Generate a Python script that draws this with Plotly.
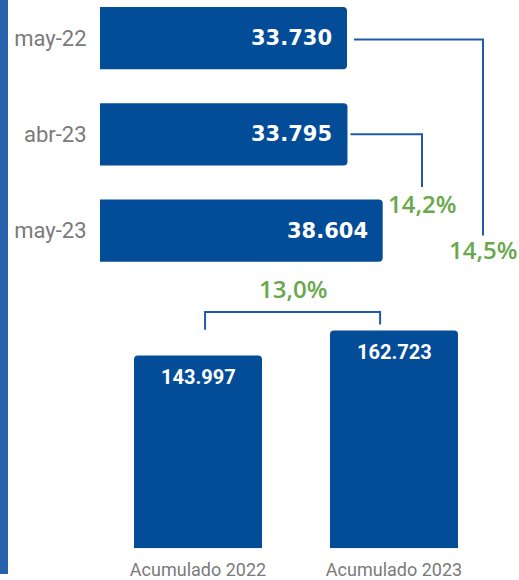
import plotly.graph_objects as go

# ---- data ----
months = ["may-22", "abr-23", "may-23"]
month_values = [33730, 33795, 38604]
acc_labels = ["Acumulado 2022", "Acumulado 2023"]
acc_values = [143997, 162723]
growth_labels = ["14,5%", "14,2%", "13,0%"]

BAR = "#034c97"
LINE = "#1f5ba6"
GREEN = "#6aa84c"
GREY = "#7a7a7a"

def fmt(v):
    return f"{v:,}".replace(",", ".")

W, H = 519, 580
k = 247 / 33730          # px per unit (horizontal bars)
ks = 0.001353            # px per unit (vertical bars)

GFONT = dict(family="Open Sans", size=24, color=GREEN, weight=600)

fig = go.Figure()

fig.add_trace(go.Bar(
    x=month_values, y=list(range(len(months))), orientation="h",
    marker=dict(color=BAR, line=dict(width=0)), width=0.648,
    xaxis="x", yaxis="y", hoverinfo="skip", showlegend=False,
))
fig.add_trace(go.Bar(
    x=list(range(len(acc_labels))), y=acc_values,
    marker=dict(color=BAR, line=dict(width=0)), width=0.653,
    xaxis="x2", yaxis="y2", hoverinfo="skip", showlegend=False,
))

ann = []
for i, v in enumerate(month_values):
    ann.append(dict(x=v, y=i, xref="x", yref="y", text=fmt(v), showarrow=False,
                    xanchor="right", yanchor="middle", xshift=-13,
                    font=dict(family="DejaVu Sans", size=21, color="white", weight="bold")))
for i, v in enumerate(acc_values):
    ann.append(dict(x=i, y=v, xref="x2", yref="y2", text=fmt(v), showarrow=False,
                    xanchor="center", yanchor="middle", yshift=-22,
                    font=dict(family="Roboto", size=20, color="white", weight="bold")))

# connectors (horizontal section)
x_far = 383 / k
x_mid = 322 / k
shapes = [
    dict(type="path", xref="x", yref="y",
         path=f"M {month_values[0] + 7 / k},0.015 L {x_far},0.015 L {x_far},2.05",
         line=dict(color=LINE, width=2)),
    dict(type="path", xref="x", yref="y",
         path=f"M {month_values[1] + 3 / k},1 L {x_mid},1 L {x_mid},1.548",
         line=dict(color=LINE, width=2)),
]
ann.append(dict(x=x_far, y=2.195, xref="x", yref="y", text=growth_labels[0], showarrow=False,
                font=GFONT))
ann.append(dict(x=x_mid, y=1.722, xref="x", yref="y", text=growth_labels[1], showarrow=False,
                font=GFONT))

# bracket (vertical section)
xl, xr = 0.036, 0.929
shapes.append(dict(type="path", xref="x2", yref="y2",
                   path=f"M {xl},{acc_values[0] + 26 / ks} L {xl},{acc_values[1] + 18.5 / ks} "
                        f"L {xr},{acc_values[1] + 18.5 / ks} L {xr},{acc_values[1] + 6 / ks}",
                   line=dict(color=LINE, width=2)))
ann.append(dict(x=(xl + xr) / 2, y=acc_values[1] + 42 / ks, xref="x2", yref="y2",
                text=growth_labels[2], showarrow=False, font=GFONT))

# left accent strip
shapes.append(dict(type="rect", xref="paper", yref="paper", x0=0, x1=8 / W, y0=0, y1=1,
                   fillcolor="#2862ad", line=dict(width=0), layer="below"))

fig.update_layout(
    width=W, height=H, margin=dict(l=0, r=0, t=0, b=0),
    paper_bgcolor="white", plot_bgcolor="white",
    barcornerradius=4,
    shapes=shapes, annotations=ann,
    xaxis=dict(domain=[100 / W, 1], range=[0, 419 / k], visible=False, fixedrange=True),
    yaxis=dict(domain=[0.5, 1], range=[2.586, -0.396], tickmode="array",
               tickvals=list(range(len(months))), ticktext=months,
               showgrid=False, zeroline=False, showline=False,
               ticks="outside", ticklen=8, tickcolor="rgba(0,0,0,0)",
               tickfont=dict(family="Roboto", size=22, color=GREY)),
    xaxis2=dict(domain=[100 / W, 492 / W], range=[-0.5, 1.5], anchor="y2",
                tickmode="array", tickvals=list(range(len(acc_labels))), ticktext=acc_labels,
                showgrid=False, zeroline=False, showline=False,
                ticks="outside", ticklen=5, tickcolor="rgba(0,0,0,0)",
                tickfont=dict(family="Roboto", size=18, color=GREY)),
    yaxis2=dict(domain=[26 / H, 303 / H], range=[0, 277 / ks], anchor="x2",
                visible=False),
)

fig.write_html("out.html", config={"displayModeBar": False},
               post_script="document.body.style.margin='0';document.body.style.overflow='hidden';")
